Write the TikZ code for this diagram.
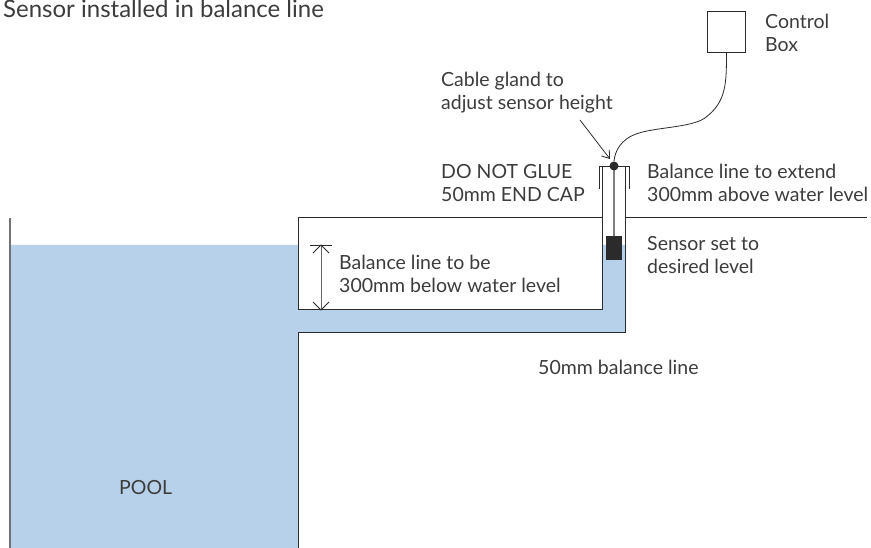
\documentclass[tikz,border=0pt]{standalone}
\usepackage{fontspec}
\setmainfont{Lato}
\usetikzlibrary{arrows.meta}
\definecolor{water}{HTML}{B8D1EA}
\definecolor{ink}{HTML}{2B2B2B}
\definecolor{label}{HTML}{3C3C3C}
\tikzset{
  x=1pt,y=-1pt,
  wall/.style={draw=ink,line width=1pt},
  txt/.style={anchor=west,inner sep=0pt,text=label,font=\fontsize{19.5}{23.7}\selectfont,align=left},
  leader/.style={draw=ink,line width=0.8pt},
  open tip/.style={-{Straight Barb[length=7pt,width=10pt,line width=0.8pt]}}
}
\begin{document}
\begin{tikzpicture}
\useasboundingbox (0,0) rectangle (871,548);
% water
\fill[water] (10,245) -- (298,245) -- (298,310) -- (602.5,310) -- (602.5,245) -- (625.5,245) -- (625.5,333) -- (298,333) -- (298,548) -- (10,548) -- cycle;
% structure
\draw[draw=black!55,line width=1.2pt] (10,218) -- (10,548);
\draw[wall] (298,548) -- (298,333) -- (625.5,333) -- (625.5,218) -- (867,218);
\draw[wall] (625.5,218) -- (625.5,166);
\draw[wall] (602.5,166) -- (602.5,310) -- (298,310) -- (298,218) -- (602.5,218);
% end cap
\draw[wall,line width=0.8pt] (599,189) -- (599,166) -- (629,166) -- (629,189);
% rod and sensor
\coordinate (rodtop) at (614,166);
\node[fill=ink,minimum width=16pt,minimum height=24pt,inner sep=0pt] (sensor) at (614,248) {};
\draw[draw=black!50,line width=1.6pt] (rodtop) -- (sensor.north);
\node[circle,fill=ink,minimum size=9pt,inner sep=0pt] (gland) at (rodtop) {};
% control box
\node[draw=ink,line width=0.8pt,fill=white,minimum width=38pt,minimum height=41pt,inner sep=0pt] (ctrl) at (726.5,31.5) {};
\draw[leader] (ctrl.south) .. controls (726.5,85) and (726,102) .. (705,118) .. controls (690,128) and (655,127) .. (636,134) .. controls (622,139) and (615,150) .. (gland.north);
% dimension
\coordinate (dimtop) at (321,245);
\coordinate (dimbot) at (321,310);
\draw[draw=black!60,line width=1pt] (dimtop) -- (dimbot);
\draw[leader] (310,245) -- (332,245);
\draw[leader] (313,253) -- (321,245) -- (329,253);
\draw[leader] (313,302) -- (321,310) -- (329,302);
% arrow to gland
\coordinate (glandlabel) at (580,120);
\draw[leader,open tip] (glandlabel) -- (610,159);
% texts
\node[txt,font=\fontsize{24}{28}\selectfont,anchor=base west] (title) at (3,17.5) {Sensor installed in balance line};
\node[txt] (boxl) at (765,33) {Control\\Box};
\node[txt] (cable) at (441,92.5) {Cable gland to\\adjust sensor height};
\node[txt] (glue) at (441,183) {DO NOT GLUE\\50mm END CAP};
\node[txt] (ext) at (647,183) {Balance line to extend\\300mm above water level};
\node[txt] (set) at (647,255) {Sensor set to\\desired level};
\node[txt] (below) at (339,274) {Balance line to be\\300mm below water level};
\node[txt] (fifty) at (538,367) {50mm balance line};
\node[txt] (pool) at (119,488) {POOL};
\end{tikzpicture}
\end{document}
